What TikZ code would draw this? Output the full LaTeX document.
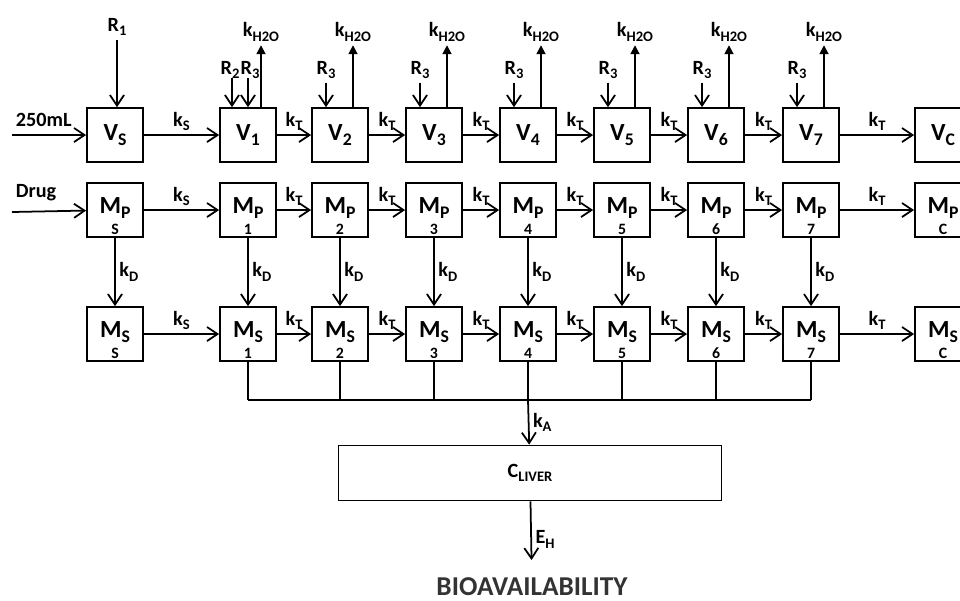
\documentclass[tikz,border=0pt]{standalone}
\usepackage{fontspec}
\usepackage{graphicx}
\setmainfont{Carlito}
\usetikzlibrary{arrows.meta}
\newcommand{\lowsub}[1]{\raisebox{-0.45ex}{\scalebox{0.72}{#1}}}

\begin{document}
\begin{tikzpicture}[
    x=0.02cm, y=-0.02cm,
    every node/.style={font=\fontsize{11.5}{13}\selectfont\bfseries},
    comp/.style={draw, line width=1pt, minimum width=1.12cm,
                 minimum height=1.08cm, inner sep=0pt,
                 font=\fontsize{14}{16}\selectfont\bfseries},
    mass/.style={comp, text height=10pt, text depth=6pt},
    idx/.style={anchor=south, inner sep=1.5pt,
                font=\fontsize{9}{10}\selectfont\bfseries},
    rate/.style={inner sep=2pt},
    flow/.style={-{Straight Barb[length=6pt,width=8pt]}, line width=1pt},
    loss/.style={-{Triangle[length=5pt,width=5pt]}, line width=1pt},
  ]
    \clip (0,0) rectangle (960,600);

    % stomach column
    \node[comp] (vs)  at (115,135) {V\lowsub{S}};
    \node[mass] (mps) at (115,210) {M\lowsub{P}};
    \node[idx]  (mpns) at (mps.south) {S};
    \node[mass] (mss) at (115,334) {M\lowsub{S}};
    \node[idx]  (msns) at (mss.south) {S};
    \draw[flow] (mps) -- node[right,rate]{k\lowsub{D}} (mss);

    % colon column
    \node[comp] (vc)  at (943,135) {V\lowsub{C}};
    \node[mass] (mpc) at (943,210) {M\lowsub{P}};
    \node[idx]  (mpnc) at (mpc.south) {C};
    \node[mass] (msc) at (943,334) {M\lowsub{S}};
    \node[idx]  (msnc) at (msc.south) {C};

    % inputs
    \coordinate (vin) at (12,135);
    \coordinate (din) at (12,212);
    \node[rate, anchor=west] (vol)  at (12,120) {250mL};
    \node[rate, anchor=west] (drug) at (12,193) {Drug};
    \draw[flow] (vin) -- (vs);
    \draw[flow] (din) -- (mps);
    \node[rate] (r1) at (117,27) {R\lowsub{1}};
    \draw[flow] (r1) -- (r1 |- vs.north);

    % small intestine compartments
    \coordinate (bus) at (0,400);
    \foreach \i/\x in {1/248,2/340,3/434,4/528,5/622,6/716,7/811} {
      \node[comp] (v\i)  at (\x,135) {V\lowsub{\i}};
      \node[mass] (mp\i) at (\x,210) {M\lowsub{P}};
      \node[idx]  (mpn\i) at (mp\i.south) {\i};
      \node[mass] (ms\i) at (\x,334) {M\lowsub{S}};
      \node[idx]  (msn\i) at (ms\i.south) {\i};
      \draw[flow] (mp\i) -- node[right,rate]{k\lowsub{D}} (ms\i);
      \node[rate] (h\i) at (\x+13,32) {k\lowsub{H2O}};
      \draw[loss] (v\i.north -| h\i) -- (h\i);
      \draw[line width=1pt] (ms\i) -- (ms\i |- bus);
    }
    \foreach \i/\x in {2/340,3/434,4/528,5/622,6/716,7/811} {
      \node[rate] (r\i) at (\x-14,70) {R\lowsub{3}};
      \draw[flow] (r\i) -- (r\i |- v\i.north);
    }
    \node[rate, inner sep=0pt] (r2a) at (230,70) {R\lowsub{2}};
    \node[rate, inner sep=0pt] (r3a) at (250,70) {R\lowsub{3}};
    \coordinate (r2f) at (232,78);
    \coordinate (r3f) at (248,78);
    \draw[flow] (r2f) -- (r2f |- v1.north);
    \draw[flow] (r3f) -- (r3f |- v1.north);

    % transit
    \foreach \r in {v,mp,ms} {
      \draw[flow] (\r s) -- node[above,rate]{k\lowsub{S}} (\r 1);
      \draw[flow] (\r 7) -- node[above,rate]{k\lowsub{T}} (\r c);
    }
    \foreach \a/\b in {1/2,2/3,3/4,4/5,5/6,6/7} {
      \draw[flow] (v\a)  -- node[above,rate]{k\lowsub{T}} (v\b);
      \draw[flow] (mp\a) -- node[above,rate]{k\lowsub{T}} (mp\b);
      \draw[flow] (ms\a) -- node[above,rate]{k\lowsub{T}} (ms\b);
    }

    % absorption and liver
    \draw[line width=1pt] (ms1 |- bus) -- (ms7 |- bus);
    \node[draw, line width=1pt, minimum width=7.66cm, minimum height=1.1cm]
      (liver) at (530,473) {C\lowsub{LIVER}};
    \draw[flow] (ms4 |- bus) -- node[right,rate]{k\lowsub{A}} (liver);
    \node[font=\fontsize{15.5}{17}\selectfont\bfseries, text=black!80,
          inner sep=0pt] (bio) at (532,587) {BIOAVAILABILITY};
    \draw[flow, shorten >=10pt] (liver) -- node[right,rate]{E\lowsub{H}} (bio);
  \end{tikzpicture}
\end{document}
